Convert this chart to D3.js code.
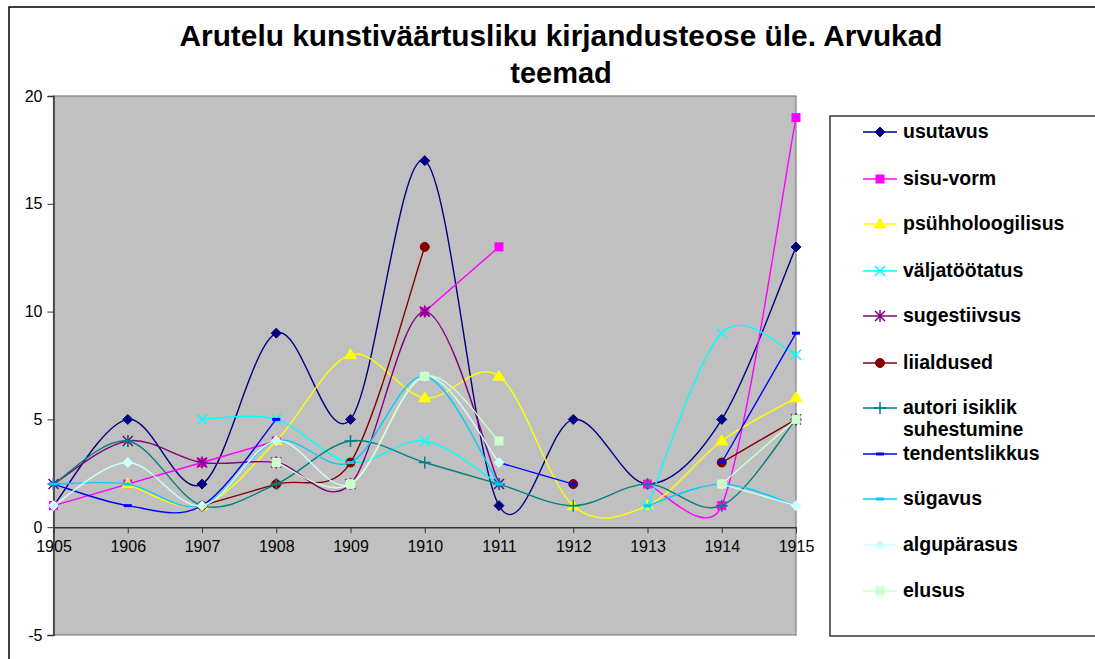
<!DOCTYPE html>
<html>
<head>
<meta charset="utf-8">
<script src="https://cdn.jsdelivr.net/npm/d3@7"></script>
<style>
  body { margin: 0; background: #fff; }
  text { font-family: "Liberation Sans", Arial, sans-serif; }
</style>
</head>
<body>
<div id="my_dataviz"></div>
<script>
// years on the x axis
var years = [1905, 1906, 1907, 1908, 1909, 1910, 1911, 1912, 1913, 1914, 1915];
var yTicks = [-5, 0, 5, 10, 15, 20];

// one array per theme, null where the year has no value
var usutavus         = [1, 5, 2, 9, 5, 17, 1, 5, 2, 5, 13];
var sisuVorm         = [1, 2, 3, 4, null, 10, 13, null, 2, 1, 19];
var psuhholoogilisus = [null, 2, 1, 4, 8, 6, 7, 1, 1, 4, 6];
var valjatootatus    = [null, null, 5, 5, 3, 4, 2, null, 1, 9, 8];
var sugestiivsus     = [2, 4, 3, 3, 2, 10, 2, null, null, null, 5];
var liialdused       = [null, null, 1, 2, 3, 13, null, 2, null, 3, 5];
var autoriIsiklik    = [2, 4, 1, 2, 4, 3, 2, 1, 2, 1, 5];
var tendentslikkus   = [2, 1, 1, 5, null, null, 3, 2, null, 3, 9];
var sugavus          = [2, 2, 1, 4, 3, 7, 2, null, 1, 2, 1];
var alguparasus      = [1, 3, 1, 4, 2, 7, 3, null, null, 2, 1];
var elusus           = [null, null, null, 3, 2, 7, 4, null, null, 2, 5];

var seriesNames = ["usutavus", "sisu-vorm", "psühholoogilisus", "väljatöötatus", "sugestiivsus",
  "liialdused", "autori isiklik suhestumine", "tendentslikkus", "sügavus", "algupärasus", "elusus"];
var seriesValues = [usutavus, sisuVorm, psuhholoogilisus, valjatootatus, sugestiivsus,
  liialdused, autoriIsiklik, tendentslikkus, sugavus, alguparasus, elusus];

var colors = ["#000080", "#FF00FF", "#FFFF00", "#00FFFF", "#800080",
  "#800000", "#008080", "#0000FF", "#00CCFF", "#CCFFFF", "#CCFFCC"];
var markers = ["diamond", "square", "triangle", "x", "star", "circle", "plus", "dash", "dash", "diamond", "square"];

var W = 1095, H = 659;
var plot = { left: 53.5, top: 96, right: 796, bottom: 635 };

var svg = d3
  .select("#my_dataviz")
  .append("svg")
  .attr("width", W)
  .attr("height", H);

// outer chart border
svg.append("rect")
  .attr("x", 9).attr("y", 7)
  .attr("width", W + 20).attr("height", H + 20)
  .attr("fill", "#fff")
  .attr("stroke", "#000")
  .attr("stroke-width", 1.5);

var x = d3.scalePoint().domain(years).range([plot.left, plot.right]);
var y = d3.scaleLinear().domain([-5, 20]).range([plot.bottom, plot.top]);

// gray plot area
svg.append("rect")
  .attr("x", plot.left).attr("y", plot.top)
  .attr("width", plot.right - plot.left).attr("height", plot.bottom - plot.top)
  .attr("fill", "#C0C0C0")
  .attr("stroke", "#808080")
  .attr("stroke-width", 1.2);

// y axis
var yAxis = svg.append("g")
  .attr("transform", "translate(" + plot.left + ",0)")
  .call(d3.axisLeft(y).tickValues(yTicks).tickSize(6).tickPadding(5).tickFormat(function (d) { return String(d); }));
yAxis.select(".domain").attr("stroke", "#333").attr("stroke-width", 1.5);
yAxis.selectAll(".tick line").attr("stroke", "#333");
yAxis.selectAll("text").style("font-size", "16px").attr("fill", "#000");

// x axis sits on the zero line
var xAxis = svg.append("g")
  .attr("transform", "translate(0," + y(0) + ")")
  .call(d3.axisBottom(x).tickSize(6).tickPadding(7).tickSizeOuter(0));
xAxis.select(".domain").attr("stroke", "#333").attr("stroke-width", 1.5);
xAxis.selectAll(".tick line").attr("stroke", "#333");
xAxis.selectAll("text").style("font-size", "16px").attr("fill", "#000");

// title
var title = svg.append("text")
  .attr("text-anchor", "middle")
  .style("font-size", "29px")
  .style("font-weight", "bold");
title.append("tspan").attr("x", 561).attr("y", 46)
  .attr("textLength", 763).attr("lengthAdjust", "spacingAndGlyphs")
  .text("Arutelu kunstiväärtusliku kirjandusteose üle. Arvukad");
title.append("tspan").attr("x", 561).attr("y", 83)
  .text("teemad");

function drawMarker(g, type, color, cx, cy) {
  if (type == "diamond") {
    g.append("path").attr("d", "M" + cx + "," + (cy - 5) + "L" + (cx + 5) + "," + cy + "L" + cx + "," + (cy + 5) + "L" + (cx - 5) + "," + cy + "Z")
      .attr("fill", color).attr("stroke", color);
  } else if (type == "square") {
    g.append("rect").attr("x", cx - 4).attr("y", cy - 4).attr("width", 8).attr("height", 8)
      .attr("fill", color).attr("stroke", color);
  } else if (type == "triangle") {
    g.append("path").attr("d", "M" + cx + "," + (cy - 6) + "L" + (cx + 6) + "," + (cy + 4) + "L" + (cx - 6) + "," + (cy + 4) + "Z")
      .attr("fill", color).attr("stroke", color);
  } else if (type == "x") {
    g.append("path").attr("d", "M" + (cx - 5) + "," + (cy - 5) + "L" + (cx + 5) + "," + (cy + 5) + "M" + (cx + 5) + "," + (cy - 5) + "L" + (cx - 5) + "," + (cy + 5))
      .attr("stroke", color).attr("stroke-width", 1.5).attr("fill", "none");
  } else if (type == "star") {
    g.append("path").attr("d", "M" + (cx - 5) + "," + (cy - 5) + "L" + (cx + 5) + "," + (cy + 5) + "M" + (cx + 5) + "," + (cy - 5) + "L" + (cx - 5) + "," + (cy + 5) + "M" + cx + "," + (cy - 6) + "L" + cx + "," + (cy + 6))
      .attr("stroke", color).attr("stroke-width", 1.5).attr("fill", "none");
  } else if (type == "circle") {
    g.append("circle").attr("cx", cx).attr("cy", cy).attr("r", 4.5)
      .attr("fill", color).attr("stroke", color);
  } else if (type == "plus") {
    g.append("path").attr("d", "M" + (cx - 6) + "," + cy + "L" + (cx + 6) + "," + cy + "M" + cx + "," + (cy - 6) + "L" + cx + "," + (cy + 6))
      .attr("stroke", color).attr("stroke-width", 1.5).attr("fill", "none");
  } else if (type == "dash") {
    g.append("rect").attr("x", cx - 4).attr("y", cy - 1.5).attr("width", 8).attr("height", 3)
      .attr("fill", color);
  }
}

// excel style smoothing: bezier legs of 1/6, never longer than half the segment
function ExcelCurve(context) { this._context = context; }
ExcelCurve.prototype = {
  areaStart: function () {},
  areaEnd: function () {},
  lineStart: function () { this._pts = []; },
  point: function (px, py) { this._pts.push([+px, +py]); },
  lineEnd: function () {
    var p = this._pts, c = this._context, n = p.length;
    if (!n) return;
    c.moveTo(p[0][0], p[0][1]);
    for (var i = 0; i < n - 1; i++) {
      var p0 = p[Math.max(i - 1, 0)], p1 = p[i], p2 = p[i + 1], p3 = p[Math.min(i + 2, n - 1)];
      var half = Math.hypot(p2[0] - p1[0], p2[1] - p1[1]) / 2;
      var a = [(p2[0] - p0[0]) / 6, (p2[1] - p0[1]) / 6];
      var b = [(p3[0] - p1[0]) / 6, (p3[1] - p1[1]) / 6];
      var la = Math.hypot(a[0], a[1]), lb = Math.hypot(b[0], b[1]);
      if (la > half) { a = [a[0] * half / la, a[1] * half / la]; }
      if (lb > half) { b = [b[0] * half / lb, b[1] * half / lb]; }
      c.bezierCurveTo(p1[0] + a[0], p1[1] + a[1], p2[0] - b[0], p2[1] - b[1], p2[0], p2[1]);
    }
  }
};
function excelCurve(context) { return new ExcelCurve(context); }

var line = d3.line()
  .defined(function (d) { return d.v != null; })
  .x(function (d) { return x(d.year); })
  .y(function (d) { return y(d.v); })
  .curve(excelCurve);

seriesValues.forEach(function (vals, i) {
  var pts = years.map(function (yr, j) { return { year: yr, v: vals[j] }; });
  var g = svg.append("g");
  g.append("path")
    .attr("d", line(pts))
    .attr("fill", "none")
    .attr("stroke", colors[i])
    .attr("stroke-width", 1.4);
  pts.forEach(function (d) {
    if (d.v != null) drawMarker(g, markers[i], colors[i], x(d.year), y(d.v));
  });
});

// legend
var legend = svg.append("g");
legend.append("rect")
  .attr("x", 830).attr("y", 116)
  .attr("width", 300).attr("height", 520)
  .attr("fill", "#fff")
  .attr("stroke", "#000")
  .attr("stroke-width", 1.2);

var legendY = [132, 179, 224, 271, 316, 363, 408, 454, 499, 545, 591];
seriesNames.forEach(function (name, i) {
  var ly = legendY[i];
  legend.append("line")
    .attr("x1", 863).attr("x2", 897)
    .attr("y1", ly).attr("y2", ly)
    .attr("stroke", colors[i]).attr("stroke-width", 1.5);
  drawMarker(legend, markers[i], colors[i], 880, ly);
  var t = legend.append("text")
    .attr("x", 903).attr("y", ly + 6)
    .style("font-size", "19.5px")
    .style("font-weight", "bold");
  if (name == "autori isiklik suhestumine") {
    t.append("tspan").attr("x", 903).text("autori isiklik");
    t.append("tspan").attr("x", 903).attr("dy", 22).text("suhestumine");
  } else {
    t.text(name);
  }
});
</script>
</body>
</html>
